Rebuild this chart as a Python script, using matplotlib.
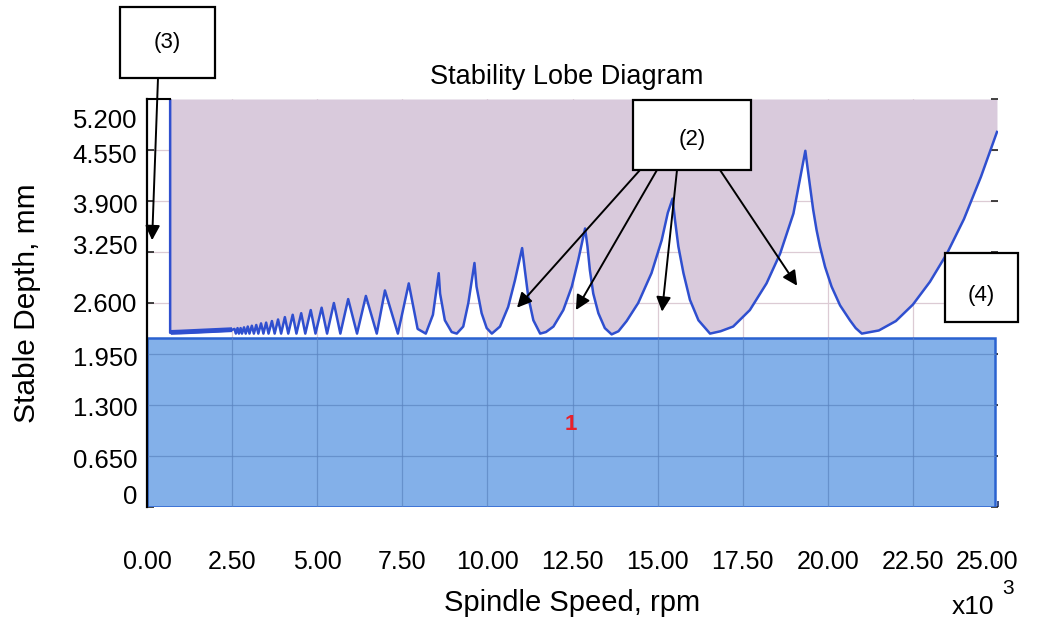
import matplotlib
matplotlib.use("Agg")
import matplotlib.pyplot as plt
from matplotlib.patches import Rectangle
from matplotlib.transforms import ScaledTranslation

# ---------------- data ----------------
x_ticks = [0, 2.5, 5.0, 7.5, 10.0, 12.5, 15.0, 17.5, 20.0, 22.5, 25.0]
x_tick_labels = ["0.00", "2.50", "5.00", "7.50", "10.00", "12.50", "15.00",
                 "17.50", "20.00", "22.50", "25.00"]
y_ticks = [0, 0.65, 1.3, 1.95, 2.6, 3.25, 3.9, 4.55, 5.2]
y_tick_labels = ["0", "0.650", "1.300", "1.950", "2.600", "3.250", "3.900",
                 "4.550", "5.200"]

# stability lobe boundary: spindle speed (x10^3 rpm) and depth (mm)
lobe_speed = [0.68, 0.68, 1.00, 1.50, 2.00, 2.45,
              2.57, 2.61, 2.66, 2.70, 2.75, 2.79, 2.85, 2.90, 2.96, 3.01,
              3.08, 3.14, 3.21, 3.27, 3.35, 3.42, 3.50, 3.57, 3.67, 3.75,
              3.85, 3.94, 4.05, 4.15, 4.28, 4.39, 4.53, 4.65, 4.81, 4.95,
              5.13, 5.29, 5.49, 5.68, 5.91, 6.17, 6.43, 6.75, 6.99, 7.37,
              7.69, 7.95, 8.19, 8.40,
              8.57, 8.61, 8.75, 8.95, 9.10, 9.29, 9.44,
              9.62, 9.68, 9.83, 9.98, 10.13, 10.37, 10.61, 10.81,
              11.02, 11.10, 11.20, 11.35, 11.55, 11.72, 11.94, 12.23, 12.48, 12.67,
              12.87, 12.94, 13.01, 13.11, 13.26, 13.45, 13.65, 13.85, 14.09, 14.43,
              14.82, 15.12, 15.30,
              15.44, 15.51, 15.61, 15.76, 15.95, 16.20, 16.54, 16.85, 17.22, 17.71,
              18.20, 18.60, 18.99,
              19.34, 19.40, 19.48, 19.57, 19.67, 19.77, 19.92, 20.11, 20.36, 20.65,
              20.82, 21.00, 21.50, 22.00, 22.50, 23.00, 23.50, 24.00, 24.50, 24.97]
lobe_depth = [5.20, 2.22, 2.22, 2.23, 2.24, 2.25,
              2.27, 2.21, 2.28, 2.21, 2.28, 2.21, 2.29, 2.21, 2.30, 2.21,
              2.31, 2.21, 2.32, 2.21, 2.34, 2.21, 2.35, 2.21, 2.37, 2.21,
              2.39, 2.21, 2.42, 2.21, 2.45, 2.21, 2.47, 2.21, 2.51, 2.21,
              2.54, 2.21, 2.60, 2.21, 2.65, 2.21, 2.69, 2.21, 2.76, 2.21,
              2.85, 2.27, 2.21, 2.45,
              2.98, 2.72, 2.38, 2.23, 2.21, 2.30, 2.60,
              3.11, 2.81, 2.47, 2.28, 2.21, 2.30, 2.55, 2.89,
              3.30, 3.02, 2.68, 2.38, 2.21, 2.23, 2.30, 2.51, 2.81, 3.15,
              3.55, 3.32, 3.02, 2.72, 2.47, 2.28, 2.20, 2.24, 2.37, 2.60,
              2.98, 3.40, 3.75,
              3.93, 3.66, 3.32, 2.98, 2.64, 2.38, 2.21, 2.24, 2.30, 2.51,
              2.85, 3.23, 3.74,
              4.54, 4.34, 4.08, 3.79, 3.53, 3.32, 3.06, 2.81, 2.57, 2.38,
              2.28, 2.21, 2.25, 2.37, 2.58, 2.87, 3.23, 3.67, 4.21, 4.78]

# dense low-speed lobe band (drawn thicker)
band_speed = [0.70, 1.00, 1.50, 2.00, 2.50]
band_depth = [2.225, 2.23, 2.24, 2.25, 2.26]

# uniform stable region (blue block)
stable_speed_end = 24.9
stable_depth = 2.15

# annotation tips (speed, depth)
note2_tips = [(10.87, 2.54), (12.60, 2.51), (15.13, 2.49), (19.10, 2.82)]
note3_tip = (0.15, 3.40)
label_1_pos = (12.46, 1.05)

# ---------------- layout ----------------
W, H = 1038, 624
REG = "Liberation Sans"
plt.rcParams["font.family"] = [REG, "DejaVu Sans"]

fig = plt.figure(figsize=(W / 100, H / 100), dpi=100)
fig.patch.set_facecolor("white")
ax = fig.add_axes([147 / W, 1 - 507 / H, (998 - 147) / W, (507 - 99) / H])
ax.set_xlim(0, 25)
ax.set_ylim(0, 5.2)


def fpx(x, y):
    return (x / W, 1 - y / H)


LILAC = "#d9cadc"
BLUE_FILL = "#83b0e9"
BLUE_EDGE = "#2a62d0"
LINE = "#2f4fcf"

# grid (light, visible in white areas)
for xv in x_ticks[1:-1]:
    ax.axvline(xv, color="#dccbd4", lw=0.9, zorder=0.5)
for yv in y_ticks[1:-1]:
    ax.axhline(yv, color="#dccbd4", lw=0.9, zorder=0.5)

# unstable region (above lobes)
ax.fill_between(lobe_speed, lobe_depth, 5.2, color=LILAC, lw=0, zorder=1)

# stable block
ax.add_patch(Rectangle((0, 0), stable_speed_end, stable_depth, facecolor=BLUE_FILL,
                       edgecolor=BLUE_EDGE, lw=1.8, zorder=2))
for xv in x_ticks[1:-1]:
    ax.plot([xv, xv], [0, stable_depth], color="#5b84c0", lw=0.9, alpha=0.7, zorder=2.5)
for yv in y_ticks[1:]:
    if yv < stable_depth:
        ax.plot([0, stable_speed_end], [yv, yv], color="#5b84c0", lw=0.9, alpha=0.7, zorder=2.5)

# lobe boundary
ax.plot(lobe_speed, lobe_depth, color=LINE, lw=1.8, zorder=3, solid_joinstyle="round")
ax.plot(band_speed, band_depth, color=LINE, lw=3.5, zorder=3, solid_capstyle="butt")
ax.plot([0, lobe_speed[0]], [5.2, 5.2], color="black", lw=1.5, zorder=3, clip_on=False)

ax.text(*label_1_pos, "1", color="#e8202a", fontsize=16, fontweight="bold",
        ha="center", va="center", zorder=4)

# spines / ticks
for s in ["top", "right", "bottom"]:
    ax.spines[s].set_visible(False)
ax.spines["left"].set_color("black")
ax.spines["left"].set_linewidth(1.6)
ax.spines["left"].set_zorder(5)

ax.set_xticks(x_ticks)
ax.set_xticklabels(x_tick_labels, fontsize=18)
ax.set_yticks(y_ticks)
ax.set_yticklabels(y_tick_labels, fontsize=18.5)
ax.tick_params(axis="x", direction="in", length=4, width=1.2, color="#1a2f6a", pad=31,
               bottom=True)
ax.tick_params(axis="y", direction="in", length=5, width=1.2, color="#222222", pad=7,
               left=True, right=True)
ax.tick_params(zorder=6)

# nudge individual tick labels as in the reference (pixels)
y_label_shift_px = [12, -2, -2, -2, 0, 8, -2, -3, -19]
for lab, dy in zip(ax.get_yticklabels(), y_label_shift_px):
    lab.set_transform(lab.get_transform() + ScaledTranslation(0, dy / 100, fig.dpi_scale_trans))
x_label_shift_px = [0, 0, 0, 0, 0, 0, 0, 0, 0, 0, -11]
for lab, dx in zip(ax.get_xticklabels(), x_label_shift_px):
    lab.set_transform(lab.get_transform() + ScaledTranslation(dx / 100, 0, fig.dpi_scale_trans))

ax.set_xlabel("Spindle Speed, rpm", fontsize=21, va="center")
ax.xaxis.set_label_coords(0.5, (507 - 603) / 408)
ax.set_ylabel("Stable Depth, mm", fontsize=21.5, va="center")
ax.yaxis.set_label_coords((27 - 147) / 851, 0.5)

fig.text(*fpx(567, 77), "Stability Lobe Diagram", fontsize=19.5, ha="center", va="center")
fig.text(*fpx(952, 607), "x10", fontsize=19, ha="left", va="center")
fig.text(*fpx(1002, 589), "3", fontsize=15, ha="left", va="center")


# annotation boxes
def box(x0, y0, x1, y1, label, ty=None):
    fig.patches.append(Rectangle(fpx(x0, y1), (x1 - x0) / W, (y1 - y0) / H,
                                 transform=fig.transFigure, facecolor="white",
                                 edgecolor="black", lw=1.6, zorder=10))
    ty = (y0 + y1) / 2 if ty is None else ty
    fig.text(*fpx((x0 + x1) / 2, ty), label, fontsize=16, ha="center", va="center", zorder=11)


arrow_kw = dict(arrowstyle="-|>", mutation_scale=22, lw=1.4, color="black",
                shrinkA=0, shrinkB=0)

box(120, 7, 215, 78, "(3)")
ax.annotate("", xy=note3_tip, xycoords="data", xytext=fpx(158, 78),
            textcoords="figure fraction", arrowprops=arrow_kw, annotation_clip=False, zorder=9)

box(633, 100, 751, 170, "(2)", ty=140)
starts = [(640, 170), (657, 170), (677, 170), (720, 170)]
for st, tip in zip(starts, note2_tips):
    ax.annotate("", xy=tip, xycoords="data", xytext=fpx(*st),
                textcoords="figure fraction", arrowprops=arrow_kw, annotation_clip=False,
                zorder=9)

box(945, 253, 1018, 322, "(4)", ty=296)

fig.savefig("out.png", dpi=100)
